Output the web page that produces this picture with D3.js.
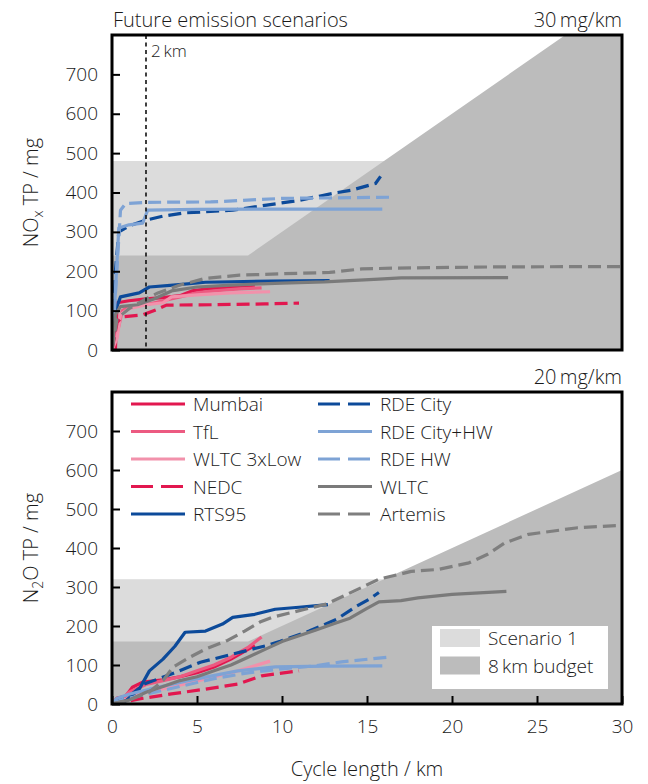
<!DOCTYPE html>
<html>
<head>
<meta charset="utf-8">
<script src="https://cdn.jsdelivr.net/npm/d3@7"></script>
<style>
  html, body { margin: 0; padding: 0; background: #fff; }
  svg text { font-family: "Open Sans", "Noto Sans", sans-serif; font-weight: 300; fill: #1a1a1a; }
</style>
</head>
<body>
<svg id="chart" width="648" height="784"></svg>
<script>
// ---- cycle definitions (name, colour, dashed) ----
const cycleNames  = ["Mumbai", "TfL", "WLTC 3xLow", "NEDC", "RTS95", "RDE City", "RDE City+HW", "RDE HW", "WLTC", "Artemis"];
const cycleColors = ["#e2174f", "#ec5a81", "#f291ab", "#e2174f", "#0c4a9a", "#0c4a9a", "#7ea3d5", "#7ea3d5", "#7a7a7a", "#7f7f7f"];
const cycleDashed = [false, false, false, true, false, true, false, true, false, true];

// ---- cumulative NOx tailpipe emissions [km, mg] ----
const noxMumbai   = [[0,0],[0.2,0],[0.3,120],[1,125],[2,130],[3,133],[4,138],[4.7,150],[5.5,155],[7,160],[8.4,165]];
const noxTfL      = [[0,0],[0.4,60],[0.6,100],[1,110],[2,115],[3,125],[4,135],[5,145],[6,150],[7.5,155],[8.8,158]];
const noxWltcLow  = [[0,0],[0.3,30],[0.5,90],[1,105],[2,115],[3,120],[3.5,135],[5,140],[7,145],[9.3,148]];
const noxNedc     = [[0,0],[0.3,70],[0.6,84],[1.8,89],[2.6,102],[3.2,114],[6,115],[9,117],[11,119]];
const noxRts95    = [[0,0],[0.2,100],[0.5,135],[1.6,145],[2.2,160],[3.6,165],[5.5,172],[9.4,175],[12.8,176]];
const noxRdeCity  = [[0,0],[0.2,200],[0.4,300],[1,315],[2,330],[3,340],[4.2,348],[7.1,355],[9.1,368],[11,380],[13,398],[14.1,406],[15.5,423],[15.8,441]];
const noxRdeCityHw= [[0,0],[0.2,150],[0.4,310],[1,318],[1.8,322],[2.1,355],[5,357],[10,358],[15.9,358]];
const noxRdeHw    = [[0,0],[0.5,355],[0.8,372],[2,375],[5.8,376],[10,385],[16.3,388]];
const noxWltc     = [[0,0],[0.2,90],[0.5,110],[1.5,115],[2.5,130],[3.5,150],[5,160],[7,165],[10,170],[12.5,173],[15.7,180],[17,183],[23.3,184]];
const noxArtemis  = [[0,0],[0.3,80],[1,105],[2,130],[2.7,145],[4,165],[5.5,182],[7.5,190],[11,195],[12.8,197],[14.7,206],[16.7,208],[22.5,211],[30,212]];

// ---- cumulative N2O tailpipe emissions [km, mg] ----
const n2oMumbai   = [[0,0],[0.3,15],[0.8,20],[1.2,43],[1.8,56],[3,62],[4,70],[5,80],[6,95],[7,115],[8,140],[8.4,150]];
const n2oTfL      = [[0,0],[0.5,10],[1,30],[2,50],[3,60],[4,70],[5,85],[6,100],[7,120],[8,145],[8.8,172]];
const n2oWltcLow  = [[0,0],[0.5,5],[1.2,20],[2,30],[3.5,43],[5.5,64],[7.4,85],[9.3,110]];
const n2oNedc     = [[0,0],[0.5,3],[1.6,13],[3.5,26],[5.5,38],[7.4,51],[8.8,72],[9.6,77],[11,85]];
const n2oRts95    = [[0,0],[0.8,8],[1.6,38],[2.2,85],[3,115],[3.7,148],[4.3,184],[5.5,187],[6.5,205],[7.1,222],[8.4,230],[9.6,243],[11,248],[12.7,255]];
const n2oRdeCity  = [[0,0],[1,20],[1.9,51],[3.8,82],[5.2,107],[7.1,128],[9.1,150],[9.9,161],[11.6,187],[13.2,217],[14.4,251],[15.1,268],[15.7,286]];
const n2oRdeCityHw= [[0,0],[0.3,15],[1,25],[2.2,38],[4,55],[5.5,69],[7.4,85],[9.6,95],[12.6,97],[15.9,98]];
const n2oRdeHw    = [[0,0],[0.5,10],[2,25],[4,45],[6,65],[8,80],[10,90],[12,98],[13.5,108],[16.2,120]];
const n2oWltc     = [[0,0],[1,10],[2,30],[3,45],[4,60],[5,70],[6,85],[7,100],[8,120],[9,140],[10,160],[11,175],[12,190],[13,205],[14,220],[15,245],[15.7,262],[17,265],[18,272],[20,281],[23.2,289]];
const n2oArtemis  = [[0,0],[1,10],[2.2,31],[3,60],[3.6,95],[4.5,118],[5.5,141],[6.8,163],[7.8,187],[8.7,210],[9.4,222],[10.6,235],[12.6,256],[14.7,299],[15.7,320],[17.6,340],[19.2,345],[21,362],[22.1,384],[23.1,413],[24.5,435],[27.4,452],[30,458]];

const noxSeries = [noxMumbai, noxTfL, noxWltcLow, noxNedc, noxRts95, noxRdeCity, noxRdeCityHw, noxRdeHw, noxWltc, noxArtemis];
const n2oSeries = [n2oMumbai, n2oTfL, n2oWltcLow, n2oNedc, n2oRts95, n2oRdeCity, n2oRdeCityHw, n2oRdeHw, n2oWltc, n2oArtemis];

// ---- emission limits ----
const limitsMgPerKm = [30, 20];      // NOx, N2O
const budgetKm = 8;                  // 8 km budget
const scenarioKm = 16;               // Scenario 1 extends to twice the budget distance

// ---- axes ----
const xTicks = [0, 5, 10, 15, 20, 25, 30];
const yTicks = [0, 100, 200, 300, 400, 500, 600, 700];

const svg = d3.select("#chart");
const xLeft = 112, xRight = 622;
const x = d3.scaleLinear().domain([0, 30]).range([xLeft, xRight]);

const panels = [
  { top: 35,  bottom: 350, series: noxSeries, limit: limitsMgPerKm[0], showMarker: true, xLabels: false },
  { top: 392, bottom: 704, series: n2oSeries, limit: limitsMgPerKm[1], showMarker: false, xLabels: true }
];

panels.forEach((p, pi) => {
  const y = d3.scaleLinear().domain([0, 800]).range([p.bottom, p.top]);
  const g = svg.append("g");
  const clipId = "clip" + pi;
  svg.append("clipPath").attr("id", clipId)
    .append("rect").attr("x", xLeft).attr("y", p.top)
    .attr("width", xRight - xLeft).attr("height", p.bottom - p.top);

  const plot = g.append("g").attr("clip-path", `url(#${clipId})`);

  // Scenario 1: twice the 8 km budget, flat up to 16 km
  const budget = p.limit * budgetKm;
  plot.append("rect")
    .attr("x", x(0)).attr("y", y(2 * budget))
    .attr("width", x(scenarioKm) - x(0)).attr("height", y(0) - y(2 * budget))
    .attr("fill", "#dcdcdc");

  // 8 km budget: flat until 8 km, then limit × distance
  const budgetPoly = [[0, 0], [0, budget], [budgetKm, budget], [30, p.limit * 30], [30, 0]];
  plot.append("path")
    .attr("d", d3.line().x(d => x(d[0])).y(d => y(d[1]))(budgetPoly) + "Z")
    .attr("fill", "#bcbcbc");

  // 2 km marker
  if (p.showMarker) {
    g.append("line")
      .attr("x1", x(2)).attr("x2", x(2)).attr("y1", p.top).attr("y2", p.bottom)
      .attr("stroke", "#111").attr("stroke-width", 1.6).attr("stroke-dasharray", "4,3.5");
    g.append("text").attr("x", x(2) + 5).attr("y", p.top + 22)
      .attr("font-size", 17).text("2\u2009km");
  }

  // cycle curves
  const line = d3.line().x(d => x(d[0])).y(d => y(d[1]));
  p.series.forEach((s, i) => {
    plot.append("path")
      .attr("d", line(s))
      .attr("fill", "none")
      .attr("stroke", cycleColors[i])
      .attr("stroke-width", 3.2)
      .attr("stroke-linejoin", "round")
      .attr("stroke-dasharray", cycleDashed[i] ? "13,6" : null);
  });

  // y axis: inward ticks and labels
  const yAxis = d3.axisLeft(y).tickValues(yTicks).tickSize(-8).tickPadding(14).tickFormat(d3.format("d"));
  const ya = g.append("g").attr("transform", `translate(${xLeft},0)`).call(yAxis);
  ya.select(".domain").remove();
  ya.selectAll(".tick line").attr("stroke", "#000").attr("stroke-width", 2);
  ya.selectAll(".tick text").attr("font-size", 19).attr("fill", "#1a1a1a")
    .attr("font-family", "'Open Sans', 'Noto Sans', sans-serif").attr("font-weight", 300);

  // x axis
  if (p.xLabels) {
    const xAxis = d3.axisBottom(x).tickValues(xTicks).tickSize(-8).tickPadding(16).tickFormat(d3.format("d"));
    const xa = g.append("g").attr("transform", `translate(0,${p.bottom})`).call(xAxis);
    xa.select(".domain").remove();
    xa.selectAll(".tick line").attr("stroke", "#000").attr("stroke-width", 2);
    xa.selectAll(".tick text").attr("font-size", 19).attr("fill", "#1a1a1a")
      .attr("font-family", "'Open Sans', 'Noto Sans', sans-serif").attr("font-weight", 300);
  }

  // frame
  g.append("rect")
    .attr("x", xLeft).attr("y", p.top)
    .attr("width", xRight - xLeft).attr("height", p.bottom - p.top)
    .attr("fill", "none").attr("stroke", "#000").attr("stroke-width", 3);

  // limit label
  g.append("text").attr("x", xRight).attr("y", p.top - 8)
    .attr("text-anchor", "end").attr("font-size", 20)
    .text(p.limit + "\u2009mg/km");

  p.y = y;
});

// title
svg.append("text").attr("x", xLeft + 1).attr("y", 27).attr("font-size", 20)
  .text("Future emission scenarios");

// y axis titles
const yt1 = svg.append("text")
  .attr("transform", `translate(38,${(35 + 350) / 2}) rotate(-90)`)
  .attr("text-anchor", "middle").attr("font-size", 20);
yt1.append("tspan").text("NO");
yt1.append("tspan").attr("font-size", 14).attr("dy", 5).text("x");
yt1.append("tspan").attr("dy", -5).text(" TP / mg");

const yt2 = svg.append("text")
  .attr("transform", `translate(38,${(392 + 704) / 2}) rotate(-90)`)
  .attr("text-anchor", "middle").attr("font-size", 20);
yt2.append("tspan").text("N");
yt2.append("tspan").attr("font-size", 14).attr("dy", 5).text("2");
yt2.append("tspan").attr("dy", -5).text("O TP / mg");

// x axis title
svg.append("text").attr("x", (xLeft + xRight) / 2).attr("y", 776)
  .attr("text-anchor", "middle").attr("font-size", 20).text("Cycle length / km");

// cycle legend, two columns of five
const legend = svg.append("g");
cycleNames.forEach((name, i) => {
  const col = Math.floor(i / 5), row = i % 5;
  const lx = col === 0 ? 131 : 318;
  const ly = 404 + row * 27.5;
  legend.append("line")
    .attr("x1", lx).attr("x2", lx + 54).attr("y1", ly).attr("y2", ly)
    .attr("stroke", cycleColors[i]).attr("stroke-width", 3.2)
    .attr("stroke-dasharray", cycleDashed[i] ? "22,8" : null);
  legend.append("text").attr("x", lx + 62).attr("y", ly + 7)
    .attr("font-size", 19).text(name);
});

// area legend
const aLeg = svg.append("g");
aLeg.append("rect").attr("x", 432).attr("y", 626).attr("width", 176).attr("height", 63).attr("fill", "#fff");
const areaNames = ["Scenario 1", "8\u2009km budget"];
const areaColors = ["#dcdcdc", "#bcbcbc"];
areaNames.forEach((n, i) => {
  const ay = 629 + i * 27.5;
  aLeg.append("rect").attr("x", 440).attr("y", ay).attr("width", 40).attr("height", 18).attr("fill", areaColors[i]);
  aLeg.append("text").attr("x", 488).attr("y", ay + 16).attr("font-size", 19).text(n);
});
</script>
</body>
</html>
